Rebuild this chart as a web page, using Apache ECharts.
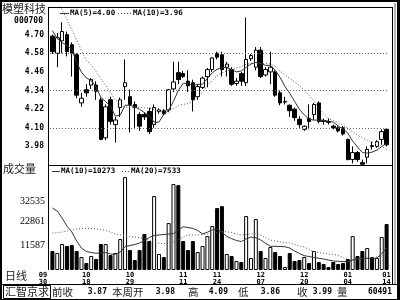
<!DOCTYPE html>
<html><head><meta charset="utf-8">
<script src="https://cdn.jsdelivr.net/npm/echarts@6/dist/echarts.min.js"></script>
<style>html,body{margin:0;padding:0;background:#fff}#c{width:400px;height:300px}</style>
</head><body><div id="c"></div>
<script>
// ---------------- data ----------------
const stockName = '模塑科技';
const stockCode = '000700';
const tickIdx = [0, 7, 16, 27, 34, 43, 52, 61, 69];
const tickLabels = ['09/30', '10/18', '10/29', '11/11', '11/24', '12/07', '12/20', '01/04', '01/14'];
const priceTicks = [3.98, 4.10, 4.22, 4.34, 4.46, 4.58, 4.70];
const priceGridLevels = [4.10, 4.34, 4.58];
const volumeTicks = [11587, 22861, 32535];
const priceLegend = ['MA(5)=4.00', 'MA(10)=3.96'];
const volumeLegend = ['MA(10)=10273', 'MA(20)=7533'];
const panelTitles = ['成交量', '日线'];
const infoTag = '汇智京求';
const infoLabels = ['前收', '本周开', '高', '低', '收', '量'];
const infoValues = ['3.87', '3.98', '4.09', '3.86', '3.99', '60491'];

// [open, close, low, high]
const candles = [
[4.69,4.59,4.575,4.70],[4.58,4.68,4.49,4.71],[4.66,4.72,4.58,4.78],[4.70,4.59,4.56,4.72],[4.635,4.58,4.43,4.65],
[4.57,4.31,4.29,4.58],[4.26,4.29,4.235,4.325],[4.345,4.325,4.30,4.38],[4.375,4.41,4.35,4.42],[4.375,4.335,4.28,4.40],
[4.28,4.025,4.02,4.295],[4.035,4.235,4.02,4.25],[4.28,4.14,4.12,4.30],[4.12,4.15,4.005,4.17],[4.23,4.28,4.17,4.295],
[4.365,4.39,4.28,4.54],[4.30,4.25,4.07,4.345],[4.25,4.23,4.10,4.27],[4.185,4.11,4.08,4.20],[4.185,4.17,4.15,4.20],
[4.205,4.075,4.06,4.23],[4.12,4.23,4.10,4.25],[4.205,4.215,4.19,4.225],[4.21,4.19,4.18,4.22],[4.215,4.345,4.20,4.35],
[4.35,4.395,4.33,4.525],[4.455,4.41,4.38,4.525],[4.45,4.43,4.42,4.465],[4.40,4.37,4.33,4.47],[4.39,4.28,4.205,4.41],
[4.30,4.365,4.28,4.38],[4.36,4.42,4.35,4.43],[4.43,4.475,4.36,4.485],[4.475,4.55,4.46,4.555],[4.58,4.555,4.54,4.59],
[4.57,4.475,4.43,4.59],[4.49,4.51,4.43,4.525],[4.475,4.38,4.37,4.49],[4.385,4.40,4.37,4.42],[4.45,4.40,4.37,4.46],
[4.39,4.54,4.37,4.81],[4.545,4.565,4.53,4.575],[4.49,4.60,4.47,4.62],[4.60,4.43,4.42,4.62],[4.44,4.475,4.43,4.49],
[4.46,4.49,4.38,4.59],[4.46,4.31,4.30,4.47],[4.325,4.26,4.245,4.34],[4.265,4.27,4.25,4.30],[4.245,4.21,4.17,4.25],
[4.22,4.165,4.145,4.23],[4.155,4.12,4.10,4.175],[4.09,4.11,4.08,4.115],[4.16,4.14,4.09,4.25],[4.185,4.25,4.15,4.26],
[4.26,4.14,4.13,4.27],[4.145,4.14,4.12,4.16],[4.14,4.135,4.12,4.16],[4.11,4.10,4.09,4.12],[4.10,4.08,4.07,4.11],
[4.10,4.06,4.05,4.11],[4.025,3.895,3.89,4.03],[3.895,3.94,3.87,3.98],[3.94,3.895,3.88,3.95],[3.875,3.865,3.86,3.895],
[3.91,3.96,3.87,3.98],[3.985,3.98,3.96,4.01],[3.98,4.01,3.97,4.02],[4.025,4.075,3.99,4.09],[4.09,3.99,3.98,4.09]
];
const volumes = [
8950,8000,12250,11300,11780,8950,6120,3300,6600,5200,
12250,12250,7070,8000,14600,43800,9420,4700,9420,16950,
13660,34850,7540,6120,22140,40500,40000,13660,9420,13660,
8480,11300,16000,20700,29200,30100,7540,6600,4240,3770,
25430,5650,24000,8950,5650,10830,8480,6600,1410,8000,
4240,4700,6120,3300,8950,3770,2830,1410,3770,2830,
3300,5180,16000,6600,8950,10360,6120,5650,15540,21670
];
const ma5 = [
4.726,4.675,4.649,4.63,4.604,4.521,4.457,4.421,4.405,4.364,
4.296,4.268,4.239,4.175,4.181,4.245,4.245,4.235,4.219,4.197,
4.177,4.136,4.136,4.187,4.213,4.27,4.341,4.386,4.386,4.373,
4.38,4.38,4.418,4.454,4.476,4.489,4.486,4.476,4.46,4.466,
4.489,4.511,4.521,4.515,4.502,4.502,4.47,4.425,4.367,4.322,
4.27,4.219,4.183,4.155,4.149,4.149,4.149,4.142,4.136,4.113,
4.091,4.065,4.014,3.975,3.94,3.937,3.943,3.956,3.979,4.00
];
const ma10 = [
4.99,4.925,4.86,4.797,4.73,4.665,4.598,4.534,4.505,4.463,
4.415,4.373,4.328,4.28,4.25,4.232,4.232,4.232,4.232,4.229,
4.226,4.216,4.203,4.203,4.21,4.223,4.242,4.251,4.255,4.27,
4.30,4.33,4.373,4.405,4.434,4.454,4.466,4.476,4.486,4.495,
4.508,4.515,4.515,4.515,4.515,4.511,4.495,4.466,4.441,4.418,
4.396,4.373,4.341,4.309,4.274,4.232,4.187,4.158,4.146,4.133,
4.117,4.097,4.075,4.052,4.036,4.02,4.007,3.995,3.979,3.96
];
const volMa10 = [
29200,27790,24490,20720,17900,13660,10360,8710,8240,7870,
8100,8240,7540,7390,8480,11070,11540,12010,12720,13890,
15310,16250,16490,16720,16960,17190,18840,20390,20020,19640,
18600,17000,17800,18900,19300,17800,15800,14800,13900,13400,
14700,15500,15200,14200,12600,11200,11160,11070,10970,10360,
8950,7770,6740,6360,5890,5510,5180,4710,4240,4100,
4000,3910,4700,5300,5450,5500,5400,5600,7800,10273
];
const volMa20 = [
17430,17660,17900,18370,18840,19310,19550,19640,19550,19410,
19080,18600,17900,16960,16490,16250,15780,15540,15310,14930,
14130,13190,12580,12480,12480,13190,14370,15540,16490,16490,
16490,16720,16960,17290,17660,18040,18040,17660,16960,16490,
16720,16960,17190,16490,15310,14130,13660,13190,12950,12720,
12010,11300,10830,9660,8710,8240,7870,7540,7390,6830,
5890,4950,4710,4950,5280,5510,5890,6120,6590,7533
];

// ---------------- layout / style ----------------
const days = candles.map((_, i) => i);
const isUp = candles.map(c => c[1] >= c[0]);
const MONO = 'DejaVu Sans Mono';
const CJK = 'Noto Sans CJK SC';
const GL = 50, GR = 11;

function txt(x, y, text, o) {
  o = o || {};
  return { type: 'text', x: x, y: y, z: 100, silent: true,
    style: { text: text, fill: o.fill || '#000', align: o.align || 'left', verticalAlign: 'middle',
      fontSize: o.size || 8, fontFamily: o.family || MONO, fontWeight: o.weight || 'bold' } };
}
function ln(x1, y1, x2, y2, o) {
  o = o || {};
  return { type: 'line', z: 100, silent: true, shape: { x1: x1, y1: y1, x2: x2, y2: y2 },
    style: { stroke: o.color || '#000', lineWidth: o.w || 1, lineDash: o.dash || null } };
}

const infoPos = [[52, 107], [112, 175], [188, 228], [238, 280], [297, 332], [337, 392]];
const graphics = [
  ln(0, 1, 400, 1, { w: 2 }), ln(1, 0, 1, 300, { w: 2 }), ln(398.5, 0, 398.5, 300, { w: 3 }),
  ln(48, 7.5, 392.5, 7.5), ln(392.5, 7, 392.5, 285), ln(395, 3, 395, 285, { color: '#666' }),
  ln(48.5, 7, 48.5, 270), ln(48, 165.5, 392.5, 165.5),
  ln(0, 284.5, 400, 284.5), ln(0, 299.5, 400, 299.5),
  { type: 'rect', z: 100, silent: true, shape: { x: 3.5, y: 285.5, width: 47, height: 13 }, style: { fill: 'none', stroke: '#000', lineWidth: 1 } },
  txt(2, 9, stockName, { size: 11, family: CJK, weight: 'normal', fill: '#222' }),
  txt(43, 20.5, stockCode, { align: 'right', size: 8 }),
  txt(3, 169, panelTitles[0], { size: 11, family: CJK, weight: 'normal', fill: '#222' }),
  txt(5, 276, panelTitles[1], { size: 11, family: CJK, weight: 'normal', fill: '#222' }),
  ln(60, 13.5, 69, 13.5, { color: '#333' }), txt(70, 13.5, priceLegend[0], { size: 7.5 }),
  ln(118, 13.5, 131, 13.5, { color: '#555', dash: [1, 2] }), txt(133, 13.5, priceLegend[1], { size: 7.5 }),
  ln(52, 171.5, 60, 171.5, { color: '#333' }), txt(61, 171.5, volumeLegend[0], { size: 7.5 }),
  ln(122, 171.5, 130, 171.5, { color: '#555', dash: [1, 2] }), txt(131, 171.5, volumeLegend[1], { size: 7.5 }),
  txt(5, 292, infoTag, { size: 11, family: CJK, weight: 'normal', fill: '#222' })
];
infoLabels.forEach((l, i) => {
  graphics.push(txt(infoPos[i][0], 292, l, { size: 10.5, family: CJK, weight: 'normal', fill: '#222' }));
  graphics.push(txt(infoPos[i][1], 292, infoValues[i], { align: 'right', size: 8 }));
});

const chart = echarts.init(document.getElementById('c'));
chart.setOption({
  animation: false,
  backgroundColor: '#fff',
  grid: [
    { left: GL, right: GR, top: 7, height: 158 },
    { left: GL, right: GR, top: 165, height: 105 }
  ],
  xAxis: [
    { type: 'category', gridIndex: 0, data: days, boundaryGap: true,
      axisLine: { show: false }, axisTick: { show: false }, axisLabel: { show: false }, splitLine: { show: false } },
    { type: 'category', gridIndex: 1, data: days, boundaryGap: true,
      axisLine: { show: false }, axisTick: { show: false }, splitLine: { show: false },
      axisLabel: {
        interval: (i) => tickIdx.indexOf(i) >= 0,
        margin: 2,
        formatter: (v, i) => {
          const k = tickIdx.indexOf(Number(v));
          if (k < 0) return '';
          const p = tickLabels[k].split('/');
          const s = k === 0 ? 's' : 'n';
          return '{' + s + '|' + p[0] + '}\n{' + s + '|' + p[1] + '}';
        },
        rich: {
          n: { fontSize: 7, fontWeight: 'bold', fontFamily: MONO, lineHeight: 7, color: '#000' },
          s: { fontSize: 7, fontWeight: 'bold', fontFamily: MONO, lineHeight: 7, color: '#000', padding: [0, 19, 0, 0] }
        }
      } }
  ],
  yAxis: [
    { type: 'value', gridIndex: 0, min: 3.86, max: 4.878, scale: true,
      axisLine: { show: false }, axisTick: { show: false }, splitLine: { show: false },
      axisLabel: { customValues: priceTicks, formatter: v => v.toFixed(2), margin: 6,
        fontSize: 8, fontWeight: 'bold', fontFamily: MONO, color: '#000' } },
    { type: 'value', gridIndex: 1, min: 0, max: 49500,
      axisLine: { show: false }, axisTick: { show: false }, splitLine: { show: false },
      axisLabel: { customValues: volumeTicks, formatter: v => String(v), margin: 5,
        fontSize: 10, fontFamily: 'Liberation Serif', color: '#000' } }
  ],
  series: [
    { type: 'candlestick', xAxisIndex: 0, yAxisIndex: 0, data: candles, barWidth: 4,
      itemStyle: { color: '#fff', color0: '#000', borderColor: '#000', borderColor0: '#000', borderWidth: 1 },
      markLine: { silent: true, symbol: ['none', 'none'], label: { show: false },
        lineStyle: { color: '#666', width: 1, type: [1, 2] },
        data: priceGridLevels.map(v => ({ yAxis: v })) } },
    { type: 'line', xAxisIndex: 0, yAxisIndex: 0, data: ma5, showSymbol: false, symbol: 'none',
      lineStyle: { color: '#333', width: 1 } },
    { type: 'line', xAxisIndex: 0, yAxisIndex: 0, data: ma10, showSymbol: false, symbol: 'none',
      lineStyle: { color: '#555', width: 1, type: [1, 2] } },
    { type: 'bar', xAxisIndex: 1, yAxisIndex: 1, barWidth: 4,
      data: volumes.map((v, i) => ({ value: v, itemStyle: { color: isUp[i] ? '#fff' : '#000' } })),
      itemStyle: { borderColor: '#000', borderWidth: 1 } },
    { type: 'line', xAxisIndex: 1, yAxisIndex: 1, data: volMa10, showSymbol: false, symbol: 'none',
      lineStyle: { color: '#333', width: 1 } },
    { type: 'line', xAxisIndex: 1, yAxisIndex: 1, data: volMa20, showSymbol: false, symbol: 'none',
      lineStyle: { color: '#555', width: 1, type: [1, 2] } }
  ],
  graphic: graphics
});
</script>
</body></html>
